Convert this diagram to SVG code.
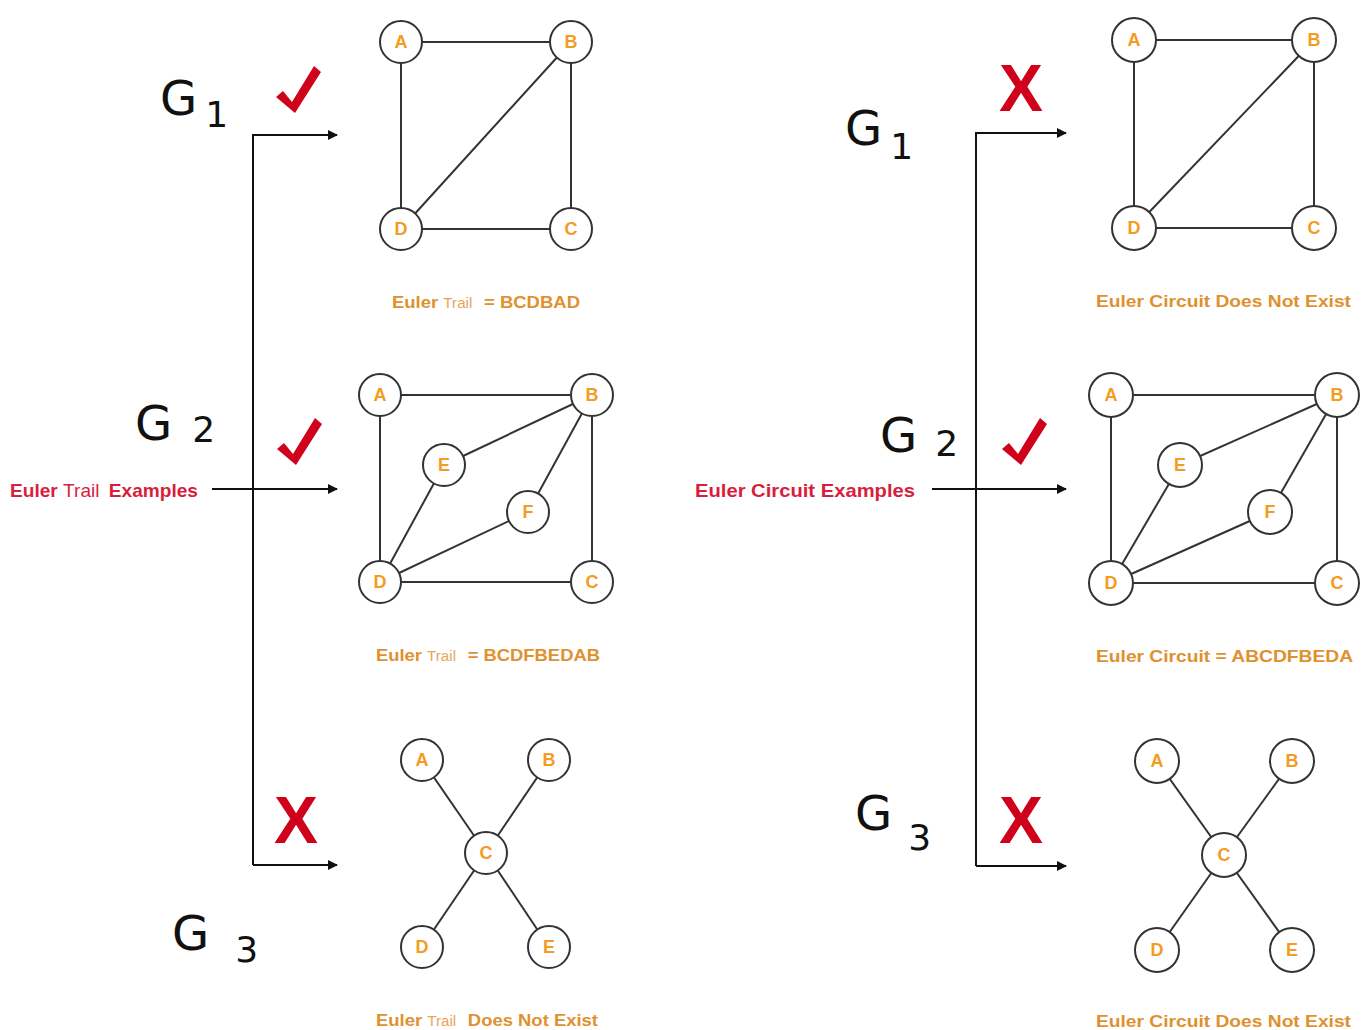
<svg xmlns="http://www.w3.org/2000/svg" width="1372" height="1030" viewBox="0 0 1372 1030">
  <defs>
    <marker id="arrow" viewBox="0 0 10 10" refX="9" refY="5" markerWidth="10" markerHeight="10" markerUnits="userSpaceOnUse" orient="auto">
      <path d="M0,0 L10,5 L0,10 Z" fill="#111"/>
    </marker>
    <path id="tick" d="M-20,8 L-13,2 L-4,13 L18,-23 L25,-17 L-1,24 Z"/>
  </defs>
  <style>
    .edge { stroke: #333; stroke-width: 2; fill: none; }
    .link { stroke: #111; stroke-width: 2; fill: none; }
    .node circle { fill: #fff; stroke: #333; stroke-width: 2; }
    .node text { font-family: "Liberation Sans", Arial, sans-serif; font-weight: bold; font-size: 18px; fill: #F39C1F; text-anchor: middle; }
    .cap { font-family: "Liberation Sans", Arial, sans-serif; font-weight: bold; font-size: 17px; fill: #E0912F; }
    .cap .thin { font-weight: normal; font-size: 14px; fill: #E6A55A; }
    .title { font-family: "Liberation Sans", Arial, sans-serif; font-weight: bold; font-size: 19px; fill: #D81E3C; }
    .title .thin { font-weight: normal; }
    .hand { font-family: "DejaVu Sans", sans-serif; font-size: 48px; fill: #111; }
    .hand .sub { font-size: 36px; }
    .cross { font-family: "Liberation Sans", Arial, sans-serif; font-weight: bold; font-size: 66px; fill: #D0021B; text-anchor: middle; }
    .ok { fill: #D0021B; }
  </style>

  <!-- connectors: brackets, arrows and graph edges -->
  <g id="connectors">
    <path class="link" d="M253,865 V135 H337" marker-end="url(#arrow)"/>
    <path class="link" d="M253,865 H337" marker-end="url(#arrow)"/>
    <path class="link" d="M212,489 H337" marker-end="url(#arrow)"/>
    <path class="link" d="M976,866 V133 H1066" marker-end="url(#arrow)"/>
    <path class="link" d="M976,866 H1066" marker-end="url(#arrow)"/>
    <path class="link" d="M932,489 H1066" marker-end="url(#arrow)"/>

    <!-- trail G1 -->
    <line class="edge" x1="401" y1="42" x2="571" y2="42"/>
    <line class="edge" x1="401" y1="42" x2="401" y2="229"/>
    <line class="edge" x1="571" y1="42" x2="571" y2="229"/>
    <line class="edge" x1="401" y1="229" x2="571" y2="229"/>
    <line class="edge" x1="571" y1="42" x2="401" y2="229"/>
    <!-- trail G2 -->
    <line class="edge" x1="380" y1="395" x2="592" y2="395"/>
    <line class="edge" x1="380" y1="395" x2="380" y2="582"/>
    <line class="edge" x1="592" y1="395" x2="592" y2="582"/>
    <line class="edge" x1="380" y1="582" x2="592" y2="582"/>
    <line class="edge" x1="444" y1="465" x2="592" y2="395"/>
    <line class="edge" x1="444" y1="465" x2="380" y2="582"/>
    <line class="edge" x1="528" y1="512" x2="592" y2="395"/>
    <line class="edge" x1="528" y1="512" x2="380" y2="582"/>
    <!-- trail G3 -->
    <line class="edge" x1="486" y1="853" x2="422" y2="760"/>
    <line class="edge" x1="486" y1="853" x2="549" y2="760"/>
    <line class="edge" x1="486" y1="853" x2="422" y2="947"/>
    <line class="edge" x1="486" y1="853" x2="549" y2="947"/>

    <!-- circuit G1 -->
    <line class="edge" x1="1134" y1="40" x2="1314" y2="40"/>
    <line class="edge" x1="1134" y1="40" x2="1134" y2="228"/>
    <line class="edge" x1="1314" y1="40" x2="1314" y2="228"/>
    <line class="edge" x1="1134" y1="228" x2="1314" y2="228"/>
    <line class="edge" x1="1314" y1="40" x2="1134" y2="228"/>
    <!-- circuit G2 -->
    <line class="edge" x1="1111" y1="395" x2="1337" y2="395"/>
    <line class="edge" x1="1111" y1="395" x2="1111" y2="583"/>
    <line class="edge" x1="1337" y1="395" x2="1337" y2="583"/>
    <line class="edge" x1="1111" y1="583" x2="1337" y2="583"/>
    <line class="edge" x1="1180" y1="465" x2="1337" y2="395"/>
    <line class="edge" x1="1180" y1="465" x2="1111" y2="583"/>
    <line class="edge" x1="1270" y1="512" x2="1337" y2="395"/>
    <line class="edge" x1="1270" y1="512" x2="1111" y2="583"/>
    <!-- circuit G3 -->
    <line class="edge" x1="1224" y1="855" x2="1157" y2="761"/>
    <line class="edge" x1="1224" y1="855" x2="1292" y2="761"/>
    <line class="edge" x1="1224" y1="855" x2="1157" y2="950"/>
    <line class="edge" x1="1224" y1="855" x2="1292" y2="950"/>
  </g>

  <!-- Euler trail graphs -->
  <g id="t1A" class="node"><circle cx="401" cy="42" r="21"/><text x="401" y="48">A</text></g>
  <g id="t1B" class="node"><circle cx="571" cy="42" r="21"/><text x="571" y="48">B</text></g>
  <g id="t1C" class="node"><circle cx="571" cy="229" r="21"/><text x="571" y="235">C</text></g>
  <g id="t1D" class="node"><circle cx="401" cy="229" r="21"/><text x="401" y="235">D</text></g>

  <g id="t2A" class="node"><circle cx="380" cy="395" r="21"/><text x="380" y="401">A</text></g>
  <g id="t2B" class="node"><circle cx="592" cy="395" r="21"/><text x="592" y="401">B</text></g>
  <g id="t2C" class="node"><circle cx="592" cy="582" r="21"/><text x="592" y="588">C</text></g>
  <g id="t2D" class="node"><circle cx="380" cy="582" r="21"/><text x="380" y="588">D</text></g>
  <g id="t2E" class="node"><circle cx="444" cy="465" r="21"/><text x="444" y="471">E</text></g>
  <g id="t2F" class="node"><circle cx="528" cy="512" r="21"/><text x="528" y="518">F</text></g>

  <g id="t3A" class="node"><circle cx="422" cy="760" r="21"/><text x="422" y="766">A</text></g>
  <g id="t3B" class="node"><circle cx="549" cy="760" r="21"/><text x="549" y="766">B</text></g>
  <g id="t3C" class="node"><circle cx="486" cy="853" r="21"/><text x="486" y="859">C</text></g>
  <g id="t3D" class="node"><circle cx="422" cy="947" r="21"/><text x="422" y="953">D</text></g>
  <g id="t3E" class="node"><circle cx="549" cy="947" r="21"/><text x="549" y="953">E</text></g>

  <!-- Euler circuit graphs -->
  <g id="c1A" class="node"><circle cx="1134" cy="40" r="22"/><text x="1134" y="46">A</text></g>
  <g id="c1B" class="node"><circle cx="1314" cy="40" r="22"/><text x="1314" y="46">B</text></g>
  <g id="c1C" class="node"><circle cx="1314" cy="228" r="22"/><text x="1314" y="234">C</text></g>
  <g id="c1D" class="node"><circle cx="1134" cy="228" r="22"/><text x="1134" y="234">D</text></g>

  <g id="c2A" class="node"><circle cx="1111" cy="395" r="22"/><text x="1111" y="401">A</text></g>
  <g id="c2B" class="node"><circle cx="1337" cy="395" r="22"/><text x="1337" y="401">B</text></g>
  <g id="c2C" class="node"><circle cx="1337" cy="583" r="22"/><text x="1337" y="589">C</text></g>
  <g id="c2D" class="node"><circle cx="1111" cy="583" r="22"/><text x="1111" y="589">D</text></g>
  <g id="c2E" class="node"><circle cx="1180" cy="465" r="22"/><text x="1180" y="471">E</text></g>
  <g id="c2F" class="node"><circle cx="1270" cy="512" r="22"/><text x="1270" y="518">F</text></g>

  <g id="c3A" class="node"><circle cx="1157" cy="761" r="22"/><text x="1157" y="767">A</text></g>
  <g id="c3B" class="node"><circle cx="1292" cy="761" r="22"/><text x="1292" y="767">B</text></g>
  <g id="c3C" class="node"><circle cx="1224" cy="855" r="22"/><text x="1224" y="861">C</text></g>
  <g id="c3D" class="node"><circle cx="1157" cy="950" r="22"/><text x="1157" y="956">D</text></g>
  <g id="c3E" class="node"><circle cx="1292" cy="950" r="22"/><text x="1292" y="956">E</text></g>

  <!-- captions -->
  <g id="captions">
    <text class="cap" x="392" y="308" textLength="188" lengthAdjust="spacingAndGlyphs">Euler <tspan class="thin">Trail</tspan>  <tspan dx="6">= BCDBAD</tspan></text>
    <text class="cap" x="376" y="661" textLength="224" lengthAdjust="spacingAndGlyphs">Euler <tspan class="thin">Trail</tspan>  <tspan dx="6">= BCDFBEDAB</tspan></text>
    <text class="cap" x="376" y="1026" textLength="222" lengthAdjust="spacingAndGlyphs">Euler <tspan class="thin">Trail</tspan>  <tspan dx="6">Does Not Exist</tspan></text>
    <text class="cap" x="1096" y="307" textLength="255" lengthAdjust="spacingAndGlyphs">Euler Circuit Does Not Exist</text>
    <text class="cap" x="1096" y="662" textLength="257" lengthAdjust="spacingAndGlyphs">Euler Circuit = ABCDFBEDA</text>
    <text class="cap" x="1096" y="1027" textLength="255" lengthAdjust="spacingAndGlyphs">Euler Circuit Does Not Exist</text>
  </g>

  <!-- row titles -->
  <g id="titles">
    <text class="title" x="10" y="497" textLength="188" lengthAdjust="spacingAndGlyphs">Euler <tspan class="thin">Trail</tspan>  <tspan dx="4">Examples</tspan></text>
    <text class="title" x="695" y="497" textLength="220" lengthAdjust="spacingAndGlyphs">Euler Circuit Examples</text>
  </g>

  <!-- graph names -->
  <g id="names">
    <text class="hand" x="160" y="115">G<tspan class="sub" dx="8" dy="12">1</tspan></text>
    <text class="hand" x="135" y="440">G<tspan class="sub" dx="20" dy="2">2</tspan></text>
    <text class="hand" x="172" y="950">G<tspan class="sub" dx="26" dy="12">3</tspan></text>
    <text class="hand" x="845" y="145">G<tspan class="sub" dx="8" dy="14">1</tspan></text>
    <text class="hand" x="880" y="452">G<tspan class="sub" dx="18" dy="4">2</tspan></text>
    <text class="hand" x="855" y="830">G<tspan class="sub" dx="16" dy="20">3</tspan></text>
  </g>

  <!-- verdict marks -->
  <g id="marks">
    <use href="#tick" class="ok" transform="translate(296,89)"/>
    <use href="#tick" class="ok" transform="translate(297,441)"/>
    <use href="#tick" class="ok" transform="translate(1022,441)"/>
    <text class="cross" x="296" y="843">X</text>
    <text class="cross" x="1021" y="111">X</text>
    <text class="cross" x="1021" y="843">X</text>
  </g>
</svg>
